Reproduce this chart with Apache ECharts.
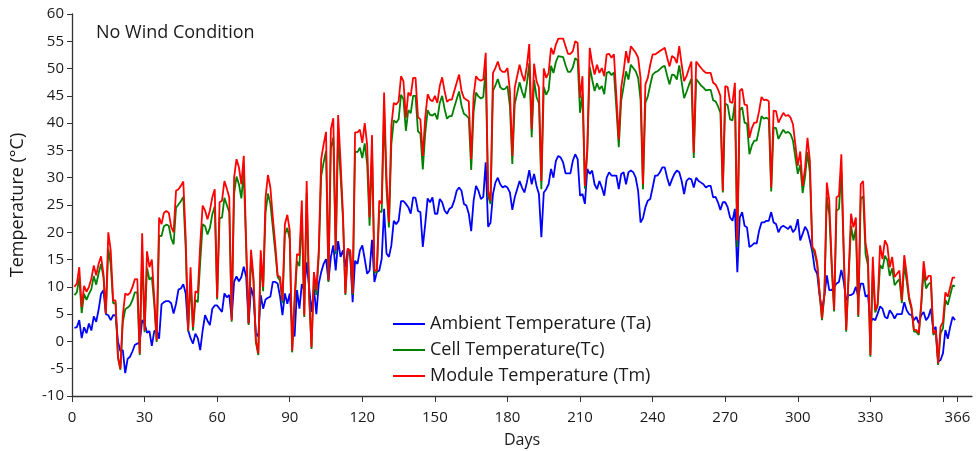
<!DOCTYPE html>
<html>
<head>
<meta charset="utf-8">
<script src="https://cdn.jsdelivr.net/npm/echarts@6/dist/echarts.min.js"></script>
<style>
html,body{margin:0;padding:0;background:#fff;}
#chart{width:976px;height:451px;}
</style>
</head>
<body>
<div id="chart"></div>
<script>
// Daily values, day 1..365
const ambient = [
2.5,2.6,3.9,0.6,2.6,1.5,3.3,2,4.6,3.6,5.8,8.7,9.4,5,4.8,3.9,4.8,4.8,0,-1.8,
-1.6,-5.8,-3.2,-2.8,-1.8,-0.6,-0.4,-0.2,3.9,3.3,1.6,1.9,-0.8,1.9,2.1,0.5,6.8,7.2,7.4,7.4,
7,5.1,6.9,9.5,9.7,10.5,8.8,2.1,0.6,-0.4,1.4,0.6,-1.6,2,4.8,3.8,3,6,6.6,6.6,
6,5.4,8.8,8.1,8.5,4.2,10.9,11.9,11,11.8,13.7,11.8,3.3,9.9,8.2,1.5,0.9,8.5,6,7.7,
8,8.2,10.9,10.9,10.6,8.2,4.8,8.8,6.9,8.8,2.7,0.9,9.4,6,10.5,9.4,14.5,10,5.4,9.7,
5,10.6,12.7,14.2,15.1,11.1,15.5,17.6,13,18.4,15.5,16.7,13.6,17,15.5,7.2,14.8,14.2,16.7,17.6,
15.1,12.4,13,18.6,10.9,12.7,13,15.1,24.3,16.1,15.5,17.6,22.1,21.5,22.1,25.7,25.7,25.2,24.6,23.4,
26.4,26.3,23.9,23.7,17.3,21.5,26.2,25.5,26.4,23.4,23.4,26.1,25.5,24,23.4,24.3,24.6,25.8,27.6,28.2,
27.6,25.2,24.9,23.4,20.2,25.8,28.5,27.6,26.1,26.5,32.8,21,21.8,27,29.1,30,28.8,28.2,28.5,28.2,
27.3,24.1,26.4,27.9,29.4,28.2,27.3,29.1,31.4,28.8,30.7,28.5,27,19.1,27.3,27.9,28.8,31.6,30,33.1,
34,33.7,32.8,30.8,30.8,30.8,33.1,34.3,33.4,26.7,27,25.2,31.6,30.7,31.3,28.8,27.9,29.4,28.2,26.7,
30,31,30.4,30.4,30.4,27.9,30.7,31,28.8,31,31.3,31,30,27.6,21.8,22.6,24.6,25.8,26.1,28.2,
30.4,30.4,31,31.9,31.9,30,28.5,29.7,30.7,31.3,31,29.4,27,29.4,29.9,29.7,28.2,30,29.4,29.1,
28.8,28.2,28.5,28.5,26.4,26.5,25.5,24.1,25.5,25.5,24.6,22.7,22.1,24.3,12.7,22.7,23.7,21.2,20.9,17.3,
17.6,18,17.9,20.3,21.8,21.8,22.1,22.1,23.7,21.8,21.5,20,20.9,21.2,20.9,20.6,21.2,20,20.6,22.4,
18.5,19.7,21,20.3,18.5,16.4,13.3,12.4,8.5,5.7,8.5,12.1,9.4,9.4,10,10.6,10.9,13.1,10.9,7.5,
8.5,8.5,8.8,10,8.2,10.6,10.6,8.2,8.5,3.5,4.2,3.9,5.1,6.4,6,4.5,4.2,5.7,5.1,4.2,
5,5,5,7.2,5.7,5,4.8,3.9,4.5,3.3,4.8,5.4,3.9,4.5,6,2.1,2.7,-3.7,-3.4,-2.2,
2.1,0.5,2.7,4.5,3.9
];
const cell = [
8.5,9.0,11.7,5.2,8.7,7.6,8.7,9.6,12.0,10.4,12.5,14.2,11.8,5.1,17.0,14.1,7.0,7.0,-3.0,-5.2,
3.5,5.9,6.2,6.6,7.6,9.0,9.0,-2.5,16.6,1.7,13.5,11.3,11.8,6.8,-0.1,19.4,19.3,21.1,21.4,21.2,
18.9,17.8,24.5,25.1,25.7,26.5,17.0,1.8,11.0,2.0,7.6,7.2,14.5,21.5,21.1,19.6,20.8,23.3,24.7,7.7,
22.6,22.7,26.3,25.0,23.7,3.6,27.1,30.2,28.8,26.2,31.0,16.8,3.0,15.4,11.1,-0.1,-2.5,15.1,9.2,23.6,
27.1,25.2,20.9,16.5,11.8,11.1,7.0,19.6,20.8,18.6,-2.0,6.6,14.7,13.8,23.5,4.5,27.2,8.5,-1.4,12.1,
8.5,15.6,30.3,32.8,34.9,10.9,35.4,37.4,16.0,38.0,30.4,22.4,8.5,16.7,16.4,8.5,34.8,34.7,35.5,33.6,
36.3,32.5,21.2,34.9,12.6,12.7,23.9,23.7,42.4,27.9,20.9,36.2,40.5,40.1,40.7,45.2,44.4,38.6,42.4,41.8,
45.0,45.0,38.5,38.1,31.5,38.1,42.4,41.5,41.4,41.8,40.7,43.7,45.0,42.6,40.8,41.3,41.3,42.9,44.4,45.8,
43.2,41.7,41.4,40.9,31.4,42.1,45.6,44.9,44.5,44.8,49.9,26.6,25.2,45.9,46.9,48.1,46.6,46.2,46.3,46.8,
43.1,32.5,43.5,45.5,47.5,45.8,44.6,47.2,51.0,37.4,47.9,44.8,43.6,27.9,46.6,45.2,46.1,50.5,49.2,51.2,
52.3,52.2,52.1,50.6,49.4,49.4,50.2,51.9,51.5,41.9,45.4,28.0,34.9,50.3,48.0,45.9,47.3,46.2,46.8,45.3,
49.2,49.4,48.8,49.3,42.8,35.6,44.1,46.7,49.5,48.0,50.7,50.1,49.5,48.3,44.3,27.9,43.7,44.9,47.0,48.9,
49.3,49.5,49.9,50.3,50.5,48.7,47.1,48.9,48.8,48.0,50.6,47.5,44.6,45.7,47.0,48.1,33.6,48.1,47.5,46.9,
46.5,46.0,46.1,46.1,44.2,44.0,43.1,41.9,27.3,43.6,43.3,40.7,40.5,43.9,17.3,42.4,42.9,40.1,39.9,34.3,
35.9,36.8,36.8,38.9,41.3,40.8,41.0,40.7,27.5,39.2,39.1,37.1,38.0,38.8,38.2,38.4,38.0,36.8,33.7,30.7,
32.4,27.2,30.2,34.7,30.9,17.1,16.0,14.1,8.8,3.9,8.6,26.5,23.3,13.7,5.5,24.0,24.3,31.1,15.5,1.8,
11.6,21.2,18.5,20.8,4.5,26.1,26.6,16.0,14.0,-2.8,13.2,5.3,6.5,14.0,13.3,15.7,14.9,12.0,13.4,10.3,
10.9,11.4,7.0,14.1,11.1,7.6,6.0,1.8,1.8,1.2,6.5,12.8,9.7,10.5,10.8,1.2,1.8,-4.3,1.5,2.4,
7.6,6.7,8.5,10.3,10.1
];
const moduleT = [
10,10.6,13.6,6.3,10.2,9.1,10,11.5,13.9,12.1,14.2,15.6,12.4,5.1,20,16.7,7.5,7.5,-2.8,-5,
4.8,8.8,8.5,8.9,10,11.4,11.4,-2.2,19.8,2,16.5,13.6,15,8,0.2,22.7,21.5,23.6,23.9,23.6,
21,20,27.6,27.9,28.5,29.3,19,2,13.6,2.6,9.2,8.9,17.8,24.9,24,22.4,24,26.4,27.9,8,
25.5,25.8,29.4,28,26.4,3.9,30,33.4,31.9,28.8,34,18,3.3,16.8,11.8,0.2,-2.2,16.7,10,26.4,
30.5,28.2,22.7,17.9,12.1,11.8,7.5,21.5,23.2,20.3,-1.7,8,16,15.8,25.8,4.8,29.4,8.8,-1.1,12.7,
9.4,16.8,33.4,36.1,38.4,11.2,38.9,40.9,16.7,41.5,33,23.4,8.8,17,16.7,8.8,38.3,38.3,38.8,36.4,
40,36,22.7,37.8,13,13,25.8,25.2,45.6,30,21.8,39.5,43.7,43.4,44,48.6,47.7,41,45.6,45,
48.3,48.3,41.1,40.7,34,41,45.3,44.3,44,45,43.7,46.8,48.4,45.9,43.9,44.3,44.3,45.9,47.4,48.9,
45.9,44.6,44.3,44,33.4,45,48.6,48,47.8,48,52.9,27.6,25.8,49.2,50.1,51.3,49.8,49.4,49.4,50.1,
45.9,34,46.5,48.6,50.7,48.9,47.7,50.4,54.5,38.9,50.9,47.7,46.5,29.4,50,48.3,49.2,53.8,52.6,54.4,
55.5,55.5,55.5,54.1,52.7,52.7,53.2,55,54.7,44.6,48.6,28.5,35.5,53.8,51,48.9,50.7,49.2,50.1,48.6,
52.6,52.7,52,52.6,45,37,46.5,49.5,53.2,51,54.1,53.5,52.9,52,48.3,28.8,47.1,48.3,50.7,52.6,
52.6,52.9,53.2,53.5,53.8,52,50.4,52.3,52,51,54.1,50.7,47.7,48.6,50,51.3,34.6,51.3,50.7,50.1,
49.6,49.2,49.2,49.2,47.4,47.1,46.2,45,27.6,46.8,46.6,43.9,43.7,47.4,18.5,45.9,46.3,43.4,43.3,37.3,
39.1,40.1,40.1,42.2,44.8,44.2,44.3,44,28.2,42.3,42.2,40.1,41,41.9,41.3,41.5,41,39.8,36,32.2,
34.8,28.5,31.8,37.3,33.1,17.3,16.7,14.5,9,4.2,8.8,29.1,25.8,14.8,5.8,26.4,26.7,34.3,16.7,2.1,
12.4,23.4,20.9,22.7,4.8,28.8,29.4,18,15.4,-2.5,15.5,5.7,6.9,17.6,15.1,18.5,17.6,13.6,15.5,11.8,
12.4,13,7.5,15.8,12.4,8.2,6.3,2.1,2.1,1.5,6.9,14.7,11.2,12,12,1.5,2.1,-4,2.7,3.6,
9,8.2,10,11.7,11.7
];
const xTicks = [0,30,60,90,120,150,180,210,240,270,300,330,360,366];
const xLabels = [0,30,60,90,120,150,180,210,240,270,300,330,366];
const seriesNames = ['Ambient Temperature (Ta)','Cell Temperature(Tc)','Module Temperature (Tm)'];
const colors = ['#0000ff','#008000','#ff0000'];

const toPairs = arr => arr.map((v, i) => [i + 1, v]);
const FONT = '"Open Sans"';
const TXT = '#1a1a1a';

const chart = echarts.init(document.getElementById('chart'), null, {renderer: 'canvas'});
chart.setOption({
  animation: false,
  backgroundColor: '#ffffff',
  textStyle: {fontFamily: FONT},
  grid: {left: 72, right: 4, top: 14, bottom: 55, containLabel: false, outerBoundsMode: 'none'},
  title: {
    text: 'No Wind Condition', left: 91, top: 19,
    textStyle: {fontFamily: FONT, fontSize: 18, fontWeight: 'normal', color: TXT}
  },
  legend: {
    orient: 'vertical', left: 393, top: 315, padding: 0,
    icon: 'rect', itemWidth: 32, itemHeight: 2, itemGap: 8,
    textStyle: {fontFamily: FONT, fontSize: 18, color: TXT},
    data: seriesNames
  },
  xAxis: {
    type: 'value', min: 0, max: 372, interval: 30,
    name: 'Days', nameLocation: 'middle', nameGap: 36,
    nameTextStyle: {fontFamily: FONT, fontSize: 16, color: TXT},
    axisLine: {onZero: false, lineStyle: {color: '#333', width: 1.3}},
    axisTick: {show: true, length: 6, inside: false, customValues: xTicks, lineStyle: {color: '#333'}},
    axisLabel: {customValues: xLabels, fontFamily: FONT, fontSize: 15, color: TXT, margin: 14},
    splitLine: {show: false}
  },
  yAxis: {
    type: 'value', min: -10, max: 60, interval: 5,
    name: 'Temperature (°C)', nameLocation: 'middle', nameGap: 45, nameRotate: 90,
    nameTextStyle: {fontFamily: FONT, fontSize: 18, color: TXT},
    axisLine: {show: true, onZero: false, lineStyle: {color: '#333', width: 1.3}},
    axisTick: {show: true, length: 5, inside: false, lineStyle: {color: '#333'}},
    axisLabel: {fontFamily: FONT, fontSize: 15, color: TXT, margin: 8},
    splitLine: {show: false}
  },
  series: [ambient, cell, moduleT].map((arr, k) => ({
    name: seriesNames[k], type: 'line', data: toPairs(arr),
    symbol: 'none', showSymbol: false, smooth: false,
    lineStyle: {color: colors[k], width: 1.8},
    itemStyle: {color: colors[k]},
    z: 2 + k
  }))
});
</script>
</body>
</html>
